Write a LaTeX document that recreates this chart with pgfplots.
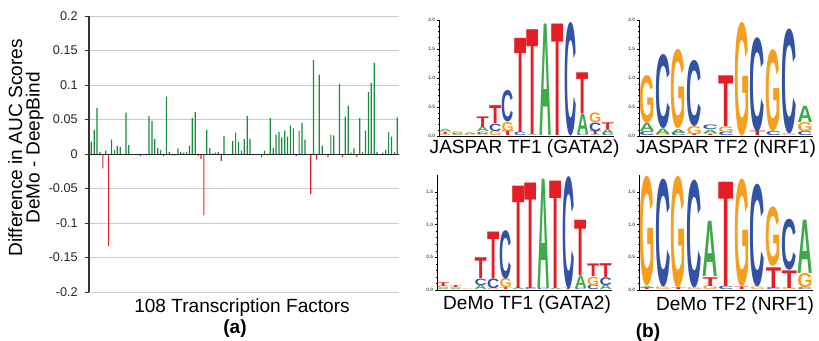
\documentclass[border=0pt]{standalone}
\usepackage{fontspec}
\setmainfont{Liberation Sans}
\newfontfamily\logofont{Liberation Sans}
\usepackage{graphicx}
\usepackage{pgfplots}
\usepackage{pgfplotstable}
\pgfplotsset{compat=1.18}

\definecolor{barGreen}{RGB}{22,140,62}
\definecolor{barRed}{RGB}{228,30,36}
\definecolor{logoA}{RGB}{62,170,72}
\definecolor{logoC}{RGB}{50,82,165}
\definecolor{logoG}{RGB}{246,158,30}
\definecolor{logoT}{RGB}{228,30,36}

\newcommand\logoLA{\textcolor{logoA}{A}}
\newcommand\logoLC{\textcolor{logoC}{C}}
\newcommand\logoLG{\textcolor{logoG}{\scalebox{0.93}[1]{G}}}
\newcommand\logoLT{\textcolor{logoT}{\scalebox{1.18}[1]{T}}}

\pgfplotstableread{
x y h L
1 0 0.03 G
1 0.03 0.04 T
1 0.07 0.04 A
2 0 0.02 A
2 0.02 0.02 C
2 0.04 0.03 G
3 0 0.02 G
3 0.02 0.03 A
4 0 0.03 G
4 0.03 0.04 C
4 0.07 0.08 A
4 0.15 0.19 T
5 0 0.08 G
5 0.08 0.13 C
5 0.21 0.32 T
6 0 0.08 T
6 0.08 0.16 G
6 0.24 0.55 C
7 0 0.06 C
7 0.06 1.69 T
8 0 0.02 A
8 0.02 1.88 T
9 0 2.0 A
10 0 2.0 T
11 0 1.98 C
12 0 0.02 C
12 0.02 0.37 A
12 0.39 0.73 T
13 0 0.02 A
13 0.02 0.06 T
13 0.08 0.15 C
13 0.23 0.17 G
14 0 0.04 C
14 0.04 0.07 A
14 0.11 0.12 T
}\jasparA

\pgfplotstableread{
x y h L
1 0 0.07 C
1 0.07 0.15 A
1 0.22 0.83 G
2 0 0.03 G
2 0.03 0.10 A
2 0.13 1.29 C
3 0 0.05 C
3 0.05 0.07 A
3 0.12 1.38 G
4 0 0.03 T
4 0.03 0.14 G
4 0.17 1.15 C
5 0 0.02 T
5 0.02 0.03 G
5 0.05 0.06 A
5 0.11 0.08 C
6 0 0.06 C
6 0.06 0.10 G
6 0.16 0.91 T
7 0 1.98 G
8 0 0.08 T
8 0.08 1.64 C
9 0 0.07 C
9 0.07 1.43 G
10 0 0.03 G
10 0.03 1.83 C
11 0 0.07 C
11 0.07 0.16 G
11 0.23 0.29 A
}\jasparB

\pgfplotstableread{
x y h L
1 0 0.02 A
1 0.02 0.04 G
1 0.06 0.06 T
2 0 0.02 A
2 0.02 0.02 G
2 0.04 0.03 T
3 0 0.01 G
4 0 0.07 A
4 0.07 0.10 C
4 0.17 0.33 T
5 0 0.02 G
5 0.02 0.15 C
5 0.17 0.74 T
6 0 0.03 T
6 0.03 0.14 G
6 0.17 0.75 C
7 0 0.03 A
7 0.03 1.63 T
8 0 0.03 C
8 0.03 1.68 T
9 0 0.02 C
9 0.02 1.74 A
10 0 0.02 A
10 0.02 1.71 T
11 0 0.02 T
11 0.02 1.74 C
12 0 0.02 C
12 0.02 0.20 A
12 0.22 0.88 T
13 0 0.07 C
13 0.07 0.13 G
13 0.20 0.20 T
14 0 0.07 A
14 0.07 0.12 C
14 0.19 0.22 T
}\demoA

\pgfplotstableread{
x y h L
1 0 0.03 T
1 0.03 0.03 A
1 0.06 1.70 G
2 0 0.04 G
2 0.04 1.67 C
3 0 0.03 T
3 0.03 1.73 G
4 0 0.03 G
4 0.03 1.67 C
5 0 0.06 G
5 0.06 0.14 T
5 0.20 0.88 A
6 0 0.05 C
6 0.05 1.66 T
7 0 0.04 T
7 0.04 1.67 G
8 0 0.04 G
8 0.04 1.59 C
9 0 0.03 C
9 0.03 0.33 T
9 0.36 0.92 G
10 0 0.03 G
10 0.03 0.28 T
10 0.31 0.79 C
11 0 0.03 C
11 0.03 0.22 G
11 0.25 0.85 A
}\demoB

\pgfplotsset{
  logoaxis/.style={
    scale only axis, anchor=south west,
    axis x line*=bottom, axis y line*=left,
    axis line style={-, black, line width=0.5pt},
    xtick=\empty, ymin=0, xmin=0.5, clip=false,
    tick align=outside, major tick length=1.8pt, minor tick length=1pt,
    minor y tick num=4, ytick pos=left,
    tick style={black, line width=0.35pt},
    yticklabel style={font=\fontsize{3.6}{4}\selectfont\bfseries, text=black!65, inner sep=1pt},
  },
  % #1 = horizontal scale of a letter, #2 = vertical scale per bit
  logoplot/.style 2 args={
    only marks, mark=*, mark size=0pt, mark options={draw=none, fill=none},
    point meta=explicit symbolic,
    visualization depends on={\thisrow{h}*#2 \as \lgys},
    nodes near coords={\fontsize{10}{10}\selectfont\logofont\bfseries\csname logoL\pgfplotspointmeta\endcsname},
    every node near coord/.append style={anchor=south, inner sep=0pt, outer sep=0pt,
      xscale=#1, yscale=\lgys},
  },
}

\begin{document}
\begin{tikzpicture}
\useasboundingbox (0,0) rectangle (614.25pt,255.75pt);

% ---------------- (a) bar chart ----------------
\begin{axis}[
  at={(66.75pt,36.75pt)}, anchor=south west,
  scale only axis, width=232.5pt, height=207pt,
  xmin=-0.8, xmax=106.6, ymin=-0.2, ymax=0.2,
  axis x line=none, axis y line*=left,
  axis line style={-, black!80, line width=0.8pt},
  xtick=\empty,
  ytick={-0.2,-0.15,-0.1,-0.05,0,0.05,0.1,0.15,0.2},
  yticklabels={-0.2,-0.15,-0.1,-0.05,0,0.05,0.1,0.15,0.2},
  yticklabel style={font=\fontsize{9.5}{11}\selectfont, text=black!85, xshift=-2pt},
  tick align=outside, major tick length=3pt, ytick pos=left,
  tick style={black!80, line width=0.7pt},
  ymajorgrids, major grid style={black!20, line width=0.7pt},
  clip=false,
]
\addplot[ybar, bar width=0.9pt, bar shift=0pt, fill=barGreen, draw=none] coordinates {
(0,0.018)(1,0.035)(2,0.067)(3,0.003)(5,0.005)(7,0.021)(8,0.006)(9,0.012)(10,0.010)
(12,0.060)(13,0.013)(20,0.055)(21,0.048)(22,0.022)(23,0.009)(24,0.006)(26,0.083)
(27,0.003)(30,0.008)(31,0.003)(32,0.002)(33,0.003)(34,0.012)(35,0.052)(36,0.061)
(40,0.035)(41,0.009)(42,0.001)(43,0.002)(44,0.003)(46,0.026)(49,0.019)(50,0.031)
(51,0.018)(52,0.005)(53,0.022)(54,0.055)(55,0.022)(60,0.005)(62,0.052)(63,0.009)
(64,0.028)(65,0.032)(66,0.024)(67,0.034)(68,0.025)(69,0.041)(70,0.037)(72,0.034)
(73,0.045)(74,0.021)(77,0.136)(79,0.115)(80,0.012)(83,0.028)(84,0.027)(86,0.102)
(88,0.054)(89,0.070)(90,0.002)(91,0.008)(93,0.052)(94,0.003)(95,0.034)(96,0.090)
(97,0.103)(98,0.132)(99,0.003)(101,0.002)(102,0.006)(103,0.032)(104,0.025)
(105,0.003)(106,0.053)};
\addplot[ybar, bar width=0.9pt, bar shift=0pt, fill=barRed, draw=none] coordinates {
(4,-0.021)(6,-0.134)(16,-0.002)(17,-0.003)(19,-0.002)(25,-0.003)(28,-0.002)
(29,-0.002)(37,-0.003)(38,-0.007)(39,-0.089)(45,-0.010)(59,-0.005)(61,-0.002)
(71,-0.003)(76,-0.058)(78,-0.008)(82,-0.004)(87,-0.004)(92,-0.005)};
\addplot[black!85, line width=0.7pt, forget plot] coordinates {(-0.8,0) (106.6,0)};
\end{axis}

\node[rotate=90, align=center, font=\fontsize{14.3}{13.2}\selectfont] at (19.5pt,145pt)
  {Difference in AUC Scores\\DeMo - DeepBind};
\node[font=\fontsize{14.3}{16}\selectfont] at (181.5pt,25pt) {108 Transcription Factors};
\node[font=\fontsize{14.3}{16}\selectfont\bfseries] at (176.25pt,9.5pt) {(a)};

% ---------------- (b) logos ----------------
\begin{axis}[logoaxis, at={(329.25pt,153.75pt)}, width=131.25pt, height=87pt,
  xmax=14.5, ymax=2, ytick={0,0.5,1,1.5,2}, yticklabels={0.0,0.5,1.0,1.5,2.0}]
\addplot[logoplot={1.27}{6.075}] table[x=x, y=y, meta=L] {\jasparA};
\end{axis}

\begin{axis}[logoaxis, at={(479.25pt,153.75pt)}, width=130.5pt, height=87pt,
  xmax=11.5, ymax=2, ytick={0,0.5,1,1.5,2}, yticklabels={0.0,0.5,1.0,1.5,2.0}]
\addplot[logoplot={1.59}{6.075}] table[x=x, y=y, meta=L] {\jasparB};
\end{axis}

\begin{axis}[logoaxis, at={(327.75pt,38.25pt)}, width=131.25pt, height=86.24pt,
  xmax=14.5, ymax=1.76, ytick={0,0.5,1,1.5}, yticklabels={0.0,0.5,1.0,1.5}]
\addplot[logoplot={1.27}{6.844}] table[x=x, y=y, meta=L] {\demoA};
\end{axis}

\begin{axis}[logoaxis, at={(479.25pt,38.25pt)}, width=130.5pt, height=86.24pt,
  xmax=11.5, ymax=1.76, ytick={0,0.5,1,1.5}, yticklabels={0.0,0.5,1.0,1.5}]
\addplot[logoplot={1.59}{6.844}] table[x=x, y=y, meta=L] {\demoB};
\end{axis}

\node[font=\fontsize{14.3}{16}\selectfont] at (393.4pt,144.5pt) {JASPAR TF1 (GATA2)};
\node[font=\fontsize{14.3}{16}\selectfont] at (544.5pt,144.5pt) {JASPAR TF2 (NRF1)};
\node[font=\fontsize{14.3}{16}\selectfont] at (395.25pt,27.5pt) {DeMo TF1 (GATA2)};
\node[font=\fontsize{14.3}{16}\selectfont] at (551.25pt,26.75pt) {DeMo TF2 (NRF1)};
\node[font=\fontsize{14.3}{16}\selectfont\bfseries] at (486pt,6pt) {(b)};
\end{tikzpicture}
\end{document}
